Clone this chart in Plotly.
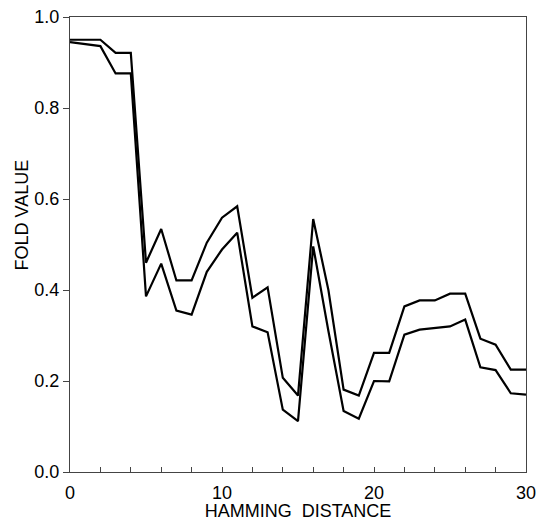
import plotly.graph_objects as go

hamming = list(range(0, 31))
fold_upper = [0.950, 0.950, 0.950, 0.921, 0.921, 0.460, 0.534, 0.421, 0.421, 0.504,
              0.559, 0.584, 0.383, 0.406, 0.207, 0.168, 0.556, 0.400, 0.181, 0.168,
              0.262, 0.262, 0.364, 0.377, 0.377, 0.392, 0.392, 0.293, 0.280, 0.225,
              0.225]
fold_lower = [0.945, 0.940, 0.936, 0.876, 0.876, 0.386, 0.458, 0.355, 0.346, 0.440,
              0.489, 0.526, 0.320, 0.307, 0.137, 0.112, 0.496, 0.310, 0.134, 0.117,
              0.200, 0.199, 0.302, 0.313, 0.317, 0.320, 0.335, 0.230, 0.224, 0.173,
              0.170]

y_ticks = [0.0, 0.2, 0.4, 0.6, 0.8, 1.0]
y_ticklabels = ["0.0", "0.2", "0.4", "0.6", "0.8", "1.0"]
x_ticks = [0, 10, 20, 30]
x_ticklabels = ["0", "10", "20", "30"]

FONT = "Liberation Sans"

fig = go.Figure()
for ys in (fold_upper, fold_lower):
    fig.add_trace(go.Scatter(x=hamming, y=ys, mode="lines",
                             line=dict(color="black", width=2.2),
                             showlegend=False, hoverinfo="skip"))

fig.update_layout(
    width=537, height=521,
    margin=dict(l=70, r=11, t=17, b=49),
    paper_bgcolor="white", plot_bgcolor="white",
    font=dict(family=FONT, size=18, color="black"),
)
fig.update_xaxes(
    range=[0, 30], tickvals=x_ticks, ticktext=x_ticklabels,
    showgrid=False, zeroline=False, automargin=False,
    showline=True, linecolor="#444", linewidth=1, mirror=True,
    ticks="inside", ticklen=5, tickcolor="#444",
    minor=dict(dtick=2, tick0=0, ticks="inside", ticklen=5, tickcolor="#444"),
    tickfont=dict(size=18, family=FONT), ticklabelstandoff=4,
    title=dict(text="HAMMING\u00a0\u00a0DISTANCE", font=dict(size=18, family=FONT), standoff=4),
)
fig.update_yaxes(
    range=[0, 1.0], tickvals=y_ticks, ticktext=y_ticklabels,
    showgrid=False, zeroline=False, automargin=False,
    showline=True, linecolor="#444", linewidth=1, mirror=True,
    ticks="outside", ticklen=6, tickcolor="#444",
    tickfont=dict(size=18, family=FONT),
)
fig.add_annotation(
    text="FOLD VALUE", textangle=-90, xref="paper", yref="paper",
    x=-0.105, y=0.564, showarrow=False, xanchor="center", yanchor="middle",
    font=dict(size=18, family=FONT),
)

fig.write_html("out.html")
